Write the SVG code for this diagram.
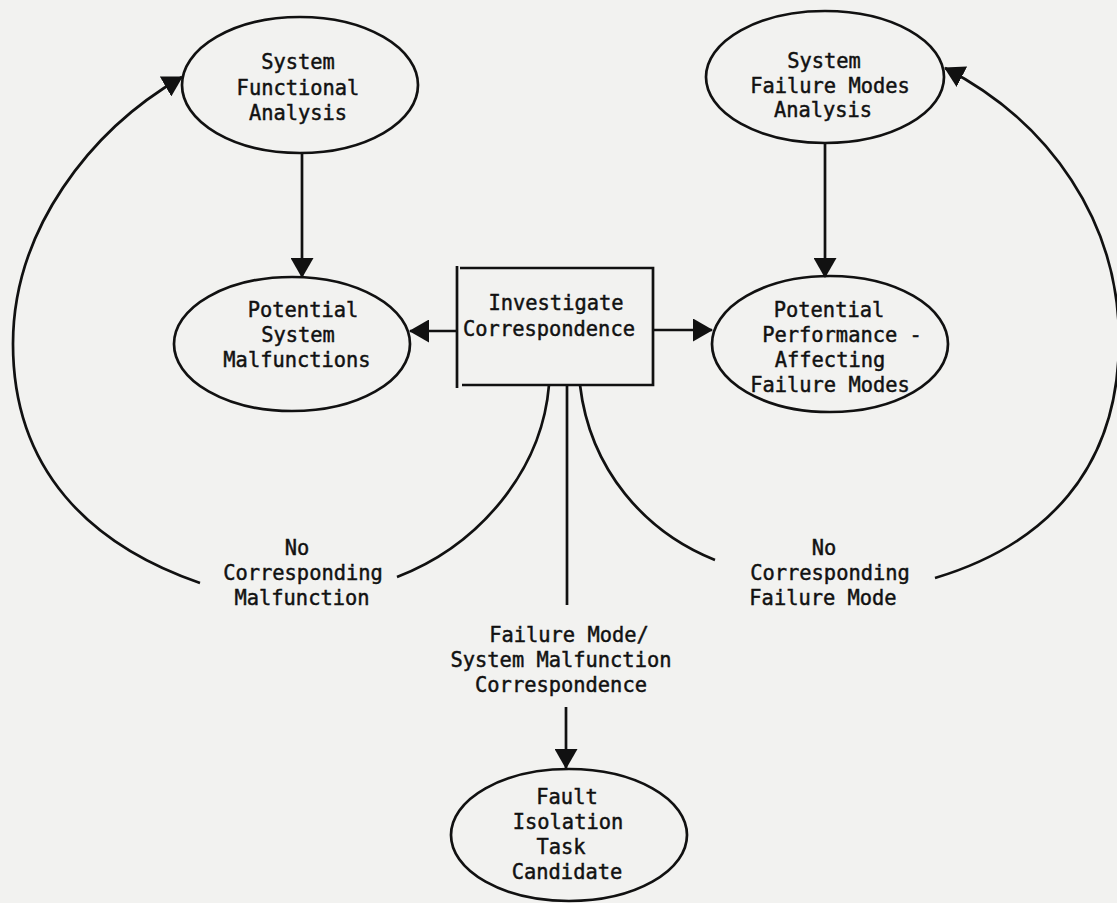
<svg xmlns="http://www.w3.org/2000/svg" width="1117" height="903" viewBox="0 0 1117 903">
  <style>
    .node { fill: none; stroke: #111; stroke-width: 2.7; }
    .lbl { font-family: "DejaVu Sans Mono", "Liberation Mono", monospace; font-size: 20.4px; fill: #111; stroke: #111; stroke-width: 0.45; text-anchor: middle; }
    .edge { fill: none; stroke: #111; stroke-width: 2.7; }
    .arrow { marker-end: url(#ah); }
  </style>
  <defs>
    <marker id="ah" viewBox="0 0 20 23" refX="19" refY="11.5" markerWidth="20" markerHeight="23" markerUnits="userSpaceOnUse" orient="auto">
      <path d="M0,0 L20,11.5 L0,23 z" fill="#111"/>
    </marker>
  </defs>
  <rect x="0" y="0" width="1117" height="903" fill="#f2f2f0"/>

  <g id="connectors">
    <!-- analyses feed their result sets -->
    <line class="edge arrow" x1="302" y1="153" x2="302" y2="277"/>
    <line class="edge arrow" x1="825" y1="143" x2="825" y2="277"/>
    <!-- investigation compares both sets -->
    <line class="edge arrow" x1="457" y1="331" x2="410" y2="331"/>
    <line class="edge arrow" x1="653" y1="330" x2="712" y2="330"/>
    <!-- outcomes leaving the investigation box -->
    <path class="edge" d="M549 385 C542 470 480 545 397 577"/>
    <path class="edge" d="M580 385 C590 470 645 532 715 560"/>
    <line class="edge" x1="567" y1="385" x2="567" y2="605"/>
    <line class="edge arrow" x1="566" y1="707" x2="566" y2="768"/>
    <!-- feedback loops back to the analyses -->
    <path class="edge arrow" d="M200 583 C90 545 13 470 13 344 C13 230 90 130 182 77"/>
    <path class="edge arrow" d="M935 578 C1045 545 1119 470 1119 340 C1119 222 1050 122 945 68"/>
  </g>

  <g id="sys-functional">
    <ellipse class="node" cx="300" cy="85" rx="118" ry="68"/>
    <text class="lbl" x="298" y="69">System</text>
    <text class="lbl" x="298" y="95">Functional</text>
    <text class="lbl" x="298" y="120">Analysis</text>
  </g>

  <g id="sys-failure-modes">
    <ellipse class="node" cx="825" cy="77" rx="119" ry="66"/>
    <text class="lbl" x="824" y="68">System</text>
    <text class="lbl" x="830" y="93">Failure Modes</text>
    <text class="lbl" x="823" y="117">Analysis</text>
  </g>

  <g id="potential-malfunctions">
    <ellipse class="node" cx="292" cy="344" rx="118" ry="67"/>
    <text class="lbl" x="303" y="317">Potential</text>
    <text class="lbl" x="298" y="342">System</text>
    <text class="lbl" x="297" y="367">Malfunctions</text>
  </g>

  <g id="investigate">
    <path class="node" d="M457 266 L457 388 M460 268 L653 268 L653 385 L462 385"/>
    <text class="lbl" x="556" y="310">Investigate</text>
    <text class="lbl" x="549" y="336">Correspondence</text>
  </g>

  <g id="potential-failure-modes">
    <ellipse class="node" cx="830" cy="344" rx="118" ry="68"/>
    <text class="lbl" x="829" y="317">Potential</text>
    <text class="lbl" x="842" y="342">Performance -</text>
    <text class="lbl" x="830" y="367">Affecting</text>
    <text class="lbl" x="830" y="392">Failure Modes</text>
  </g>

  <g id="no-malfunction">
    <text class="lbl" x="297" y="555">No</text>
    <text class="lbl" x="303" y="580">Corresponding</text>
    <text class="lbl" x="302" y="605">Malfunction</text>
  </g>

  <g id="no-failure-mode">
    <text class="lbl" x="824" y="555">No</text>
    <text class="lbl" x="830" y="580">Corresponding</text>
    <text class="lbl" x="823" y="605">Failure Mode</text>
  </g>

  <g id="correspondence">
    <text class="lbl" x="569" y="642">Failure Mode/</text>
    <text class="lbl" x="561" y="667">System Malfunction</text>
    <text class="lbl" x="561" y="692">Correspondence</text>
  </g>

  <g id="fault-isolation">
    <ellipse class="node" cx="569" cy="835" rx="118" ry="66"/>
    <text class="lbl" x="567" y="804">Fault</text>
    <text class="lbl" x="568" y="829">Isolation</text>
    <text class="lbl" x="561" y="854">Task</text>
    <text class="lbl" x="567" y="879">Candidate</text>
  </g>
</svg>
